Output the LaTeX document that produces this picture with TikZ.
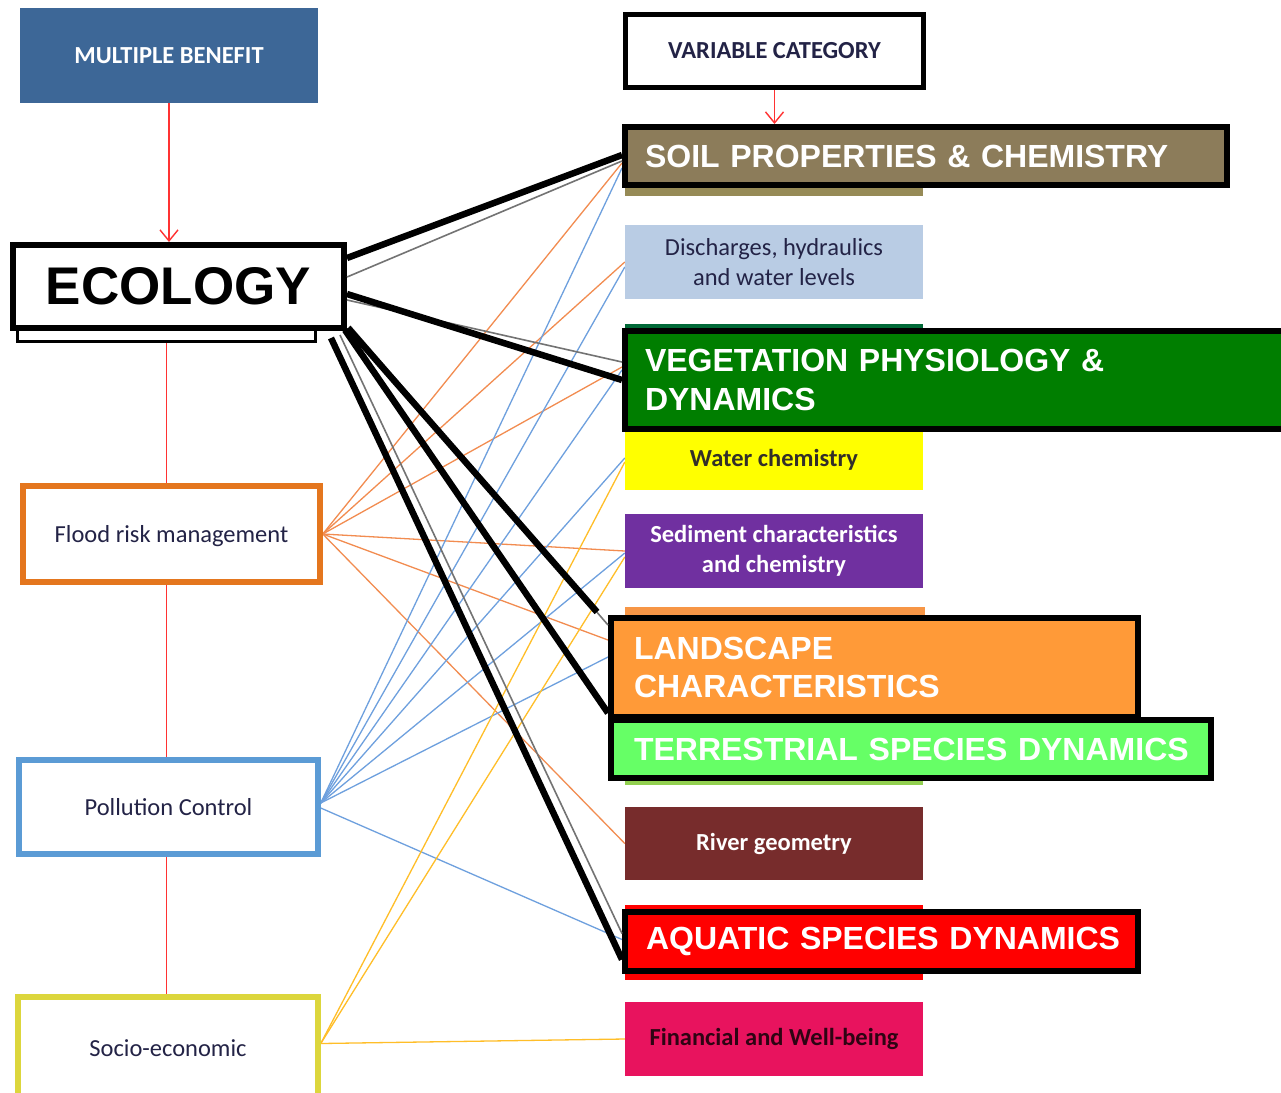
\documentclass[tikz,border=0pt]{standalone}
\usepackage{fontspec}
\setmainfont{Carlito}
\newfontfamily\arial{Liberation Sans}
\usetikzlibrary{arrows.meta}
\pgfdeclarelayer{bg}
\pgfdeclarelayer{lines}
\pgfsetlayers{bg,lines,main}
\definecolor{mbblue}{RGB}{61,103,151}
\definecolor{floodor}{RGB}{228,118,30}
\definecolor{pollblue}{RGB}{91,155,213}
\definecolor{socioy}{RGB}{220,214,60}
\definecolor{soilbr}{RGB}{140,124,90}
\definecolor{soilstrip}{RGB}{150,138,86}
\definecolor{dischbl}{RGB}{185,204,228}
\definecolor{veggr}{RGB}{0,126,0}
\definecolor{vegstrip}{RGB}{0,105,55}
\definecolor{sedpu}{RGB}{112,48,160}
\definecolor{landor}{RGB}{255,154,56}
\definecolor{landstrip}{RGB}{247,150,70}
\definecolor{terrgr}{RGB}{102,255,102}
\definecolor{terrstrip}{RGB}{146,208,80}
\definecolor{riverbr}{RGB}{119,44,44}
\definecolor{finpk}{RGB}{232,19,94}
\definecolor{labtext}{RGB}{35,35,70}
\definecolor{lnor}{RGB}{242,140,80}
\definecolor{lnbl}{RGB}{110,160,222}
\definecolor{lnye}{RGB}{255,190,40}
\definecolor{pureyellow}{RGB}{255,255,0}
\definecolor{arrred}{RGB}{255,50,50}
\tikzset{
  lab/.style={font=\fontsize{24.5}{29.5}\selectfont, text=labtext, align=center, inner sep=0pt},
  labbold/.style={font=\bfseries\fontsize{24.5}{29.5}\selectfont},
  smallbox/.style={lab, minimum width=298pt, minimum height=#1},
  leftbox/.style={lab, draw=#1, line width=5.5pt, fill=white},
  bigbox/.style={draw=black, line width=6pt, inner ysep=0pt, align=left,
    font=\arial\bfseries\fontsize{32}{38.5}\selectfont, text=white},
  redarrow/.style={draw=arrred, line width=1.4pt, -{Straight Barb[length=11pt,width=18pt]}},
  redline/.style={draw=arrred, line width=1.2pt},
  thinor/.style={draw=lnor, line width=1.3pt},
  thinbl/.style={draw=lnbl, line width=1.3pt},
  thinye/.style={draw=lnye, line width=1.3pt},
  thickbk/.style={draw=black, line width=6.5pt},
  thingr/.style={draw=black!55, line width=1.6pt}
}
\begin{document}
\begin{tikzpicture}[x=1pt,y=-1pt]
\useasboundingbox (0,0) rectangle (1281,1092);
\begin{pgfonlayer}{bg}
\fill[white] (0,0) rectangle (1281,1092);
\end{pgfonlayer}

% left column
\node[lab, labbold, fill=mbblue, text=white, minimum width=298pt, minimum height=95pt] (mb) at (169,55.5) {MULTIPLE BENEFIT};
\node[draw=black, line width=3pt, fill=white, minimum width=298pt, minimum height=20pt, inner sep=0pt]
  (ecoshadow) at (166.5,331.5) {};
\node[draw=black, line width=6pt, fill=white, minimum width=331pt, minimum height=83pt, inner sep=0pt,
  font=\arial\bfseries\fontsize{53}{60}\selectfont] (eco) at (178.5,286.5) {ECOLOGY};
\node[leftbox=floodor, minimum width=297pt, minimum height=96pt, text depth=-6pt] (flood) at (171.5,534) {Flood risk management};
\node[leftbox=pollblue, minimum width=299pt, minimum height=94pt] (poll) at (168.5,807) {Pollution Control};
\node[leftbox=socioy, minimum width=300pt, minimum height=103pt] (socio) at (168,1048.5) {Socio-economic};

% right column
\node[lab, labbold, draw=black, line width=5pt, fill=white, minimum width=298pt, minimum height=73pt] (var) at (774.5,50.5) {VARIABLE CATEGORY};

% original strips behind the enlarged boxes
\fill[soilstrip] (625,150) rectangle (923,196);
\fill[vegstrip] (625,324) rectangle (923,400);
\fill[landstrip] (625,607) rectangle (925,680);
\fill[terrstrip] (625,740) rectangle (923,785);
\fill[red] (625,905) rectangle (923,980);

\node[smallbox=74pt, fill=dischbl] (disch) at (774,262) {Discharges, hydraulics\\and water levels};
\node[smallbox=60pt, labbold, fill=pureyellow, text=black!85!olive] (water) at (774,460) {Water chemistry};
\node[smallbox=74pt, labbold, fill=sedpu, text=white] (sed) at (774,551) {Sediment characteristics\\and chemistry};
\node[smallbox=73pt, labbold, fill=riverbr, text=white] (river) at (774,843.5) {River geometry};
\node[smallbox=74pt, labbold, fill=finpk, text=black!80!finpk] (fin) at (774,1039) {Financial and Well-being};

% enlarged category boxes
\node[bigbox, fill=soilbr, minimum height=58pt, inner xsep=20pt, text width=562pt] (soil) at (926,156)
  {\mbox{SOIL PROPERTIES \& CHEMISTRY}};
\node[bigbox, fill=veggr, minimum height=98pt, inner xsep=20pt, text width=635pt] (veg) at (962.5,380)
  {VEGETATION PHYSIOLOGY \&\\DYNAMICS};
\node[bigbox, fill=landor, minimum height=99pt, inner xsep=23pt, text width=481pt] (land) at (874.5,667.5)
  {LANDSCAPE\\CHARACTERISTICS};
\node[bigbox, fill=terrgr, minimum height=58pt, inner xsep=23pt, text width=554pt] (terr) at (911,749)
  {\mbox{TERRESTRIAL SPECIES DYNAMICS}};
\node[bigbox, fill=red, minimum height=59pt, inner xsep=21pt, text width=471pt] (aqua) at (881.5,941.5)
  {\mbox{AQUATIC SPECIES DYNAMICS}};

% connectors behind the boxes
\begin{pgfonlayer}{lines}
\draw[redarrow] (mb.south) -- (mb.south |- eco.north);
\draw[redarrow] (var.south) -- (var.south |- soil.north);
\draw[redline] (ecoshadow.south) -- (ecoshadow.south |- flood.north);
\draw[redline] (ecoshadow.south |- flood.south) -- (ecoshadow.south |- poll.north);
\draw[redline] (ecoshadow.south |- poll.south) -- (ecoshadow.south |- socio.north);
% flood risk management
\draw[thinor] (flood.east) -- ([yshift=-7pt]soil.west);
\draw[thinor] (flood.east) -- (disch.west);
\draw[thinor] (flood.east) -- ([yshift=13pt]veg.west);
\draw[thinor] (flood.east) -- (sed.west);
\draw[thinor] (flood.east) -- ([yshift=27.5pt]land.west);
\draw[thinor] (flood.east) -- (river.west);
% pollution control
\draw[thinbl] ([yshift=4pt]poll.east) -- ([yshift=-12pt]soil.west);
\draw[thinbl] ([yshift=4pt]poll.east) -- ([yshift=-5pt]disch.west);
\draw[thinbl] ([yshift=4pt]poll.east) -- ([yshift=10pt]veg.west);
\draw[thinbl] ([yshift=4pt]poll.east) -- ([yshift=2pt]water.west);
\draw[thinbl] ([yshift=4pt]poll.east) -- ([yshift=-2pt]sed.west);
\draw[thinbl] ([yshift=4pt]poll.east) -- ([yshift=10.5pt]land.west);
\draw[thinbl] ([yshift=-1pt]poll.east) -- ([yshift=2pt]aqua.west);
% socio-economic
\draw[thinye] ([yshift=5pt]socio.east) -- ([yshift=-2pt]water.west);
\draw[thinye] ([yshift=5pt]socio.east) -- ([yshift=-6pt]sed.west);
\draw[thinye] ([yshift=5pt]socio.east) -- (fin.west);
\end{pgfonlayer}

% ecology connectors
\draw[thingr] ([yshift=9.5pt]eco.east) -- ([yshift=-5pt]soil.west);
\draw[thingr] ([yshift=-13.5pt]eco.east) -- ([yshift=18pt]veg.west);
\draw[thingr] ([xshift=-7pt,yshift=-4pt]eco.south east) -- ([yshift=8pt]aqua.west);
\draw[thingr] ([xshift=3pt,yshift=5pt]eco.south east) -- ([yshift=-10pt]land.north west);
\draw[thickbk] ([yshift=28.5pt]eco.east) -- ([yshift=1pt]soil.west);
\draw[thickbk] ([yshift=-7.5pt]eco.east) -- (veg.west);
\draw[thickbk] ([xshift=-16pt,yshift=-7pt]eco.south east) -- ([yshift=-18pt]aqua.west);
\draw[thickbk] ([xshift=-2pt,yshift=1pt]eco.south east) -- ([yshift=4pt]terr.north west);
\draw[thickbk] ([xshift=1pt,yshift=3pt]eco.south east) -- ([xshift=-11pt,yshift=3pt]land.north west) coordinate (landend);
\end{tikzpicture}
\end{document}
